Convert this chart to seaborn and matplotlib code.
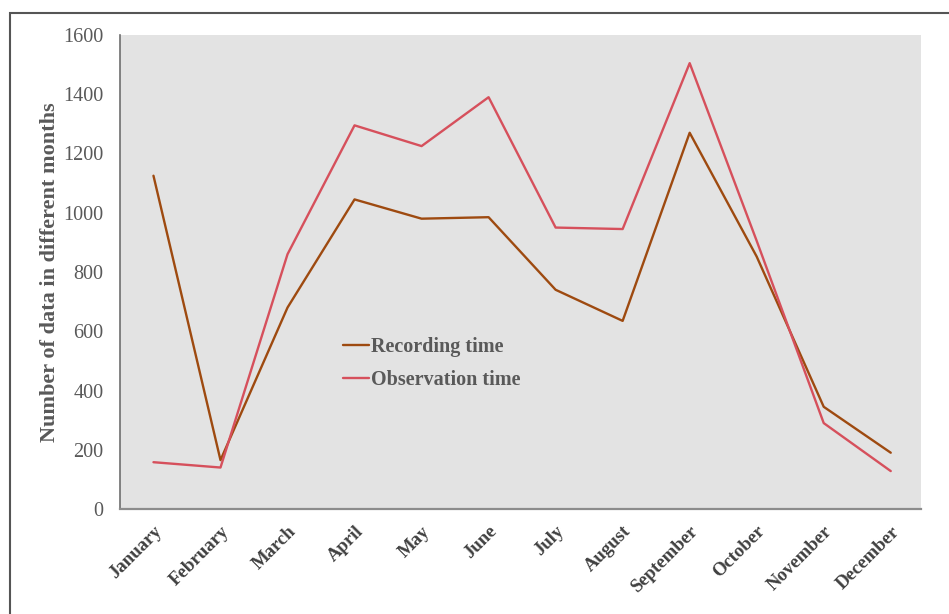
import matplotlib
matplotlib.use("Agg")
import matplotlib.pyplot as plt
import seaborn as sns
import pandas as pd
from matplotlib.patches import Rectangle

months = ["January", "February", "March", "April", "May", "June",
          "July", "August", "September", "October", "November", "December"]
recording_time = [1125, 165, 680, 1045, 980, 985, 740, 635, 1270, 852, 345, 190]
observation_time = [158, 140, 860, 1295, 1225, 1390, 950, 945, 1505, 905, 290, 128]
series_names = ["Recording time", "Observation time"]
series_colors = ["#9E4A10", "#D6505C"]
y_ticks = [0, 200, 400, 600, 800, 1000, 1200, 1400, 1600]

df = pd.DataFrame({
    "Month": months * 2,
    "Count": recording_time + observation_time,
    "Series": [series_names[0]] * len(months) + [series_names[1]] * len(months),
})

sns.set_theme(style="white")
plt.rcParams["font.family"] = ["Liberation Serif", "DejaVu Serif"]

fig = plt.figure(figsize=(9.49, 6.14), dpi=100)
ax = fig.add_axes([0.1264, 0.171, 0.844, 0.772])
ax.set_facecolor("#E3E3E3")

sns.lineplot(data=df, x="Month", y="Count", hue="Series", sort=False,
             palette=dict(zip(series_names, series_colors)),
             linewidth=1.7, ax=ax)

ax.set_ylim(0, 1600)
ax.set_xlim(-0.5, 11.45)
ax.set_yticks(y_ticks)
ax.set_yticklabels([str(v) for v in y_ticks], fontsize=14.5, color="#595959")
ax.set_xticks(range(len(months)))
ax.set_xticklabels(months, rotation=45, ha="right", rotation_mode="anchor",
                   fontsize=13.5, fontweight="bold", color="#404040")
ax.tick_params(axis="both", length=0)
ax.tick_params(axis="y", pad=12)
ax.tick_params(axis="x", pad=10)

ax.set_xlabel("")
ax.set_ylabel("Number of data in different months", fontsize=16,
              fontweight="bold", color="#595959", labelpad=2)

for side in ["top", "right"]:
    ax.spines[side].set_visible(False)
ax.spines["left"].set_color("#6E6E6E")
ax.spines["bottom"].set_color("#8C8C8C")
ax.spines["left"].set_linewidth(1.2)
ax.spines["bottom"].set_linewidth(1.6)

leg = ax.legend(loc="upper left", bbox_to_anchor=(0.266, 0.385), frameon=False,
                fontsize=14.5, handlelength=1.3, handletextpad=0.1,
                labelspacing=0.65, borderpad=0)
for txt in leg.get_texts():
    txt.set_fontweight("bold")
    txt.set_color("#595959")

# outer frame around the figure
fig.patches.append(Rectangle((10 / 949, -0.05), 1.1, 1 - 13 / 614 + 0.05,
                             transform=fig.transFigure, fill=False,
                             edgecolor="#555555", linewidth=1.5, zorder=10))

fig.savefig("out.png", dpi=100)
